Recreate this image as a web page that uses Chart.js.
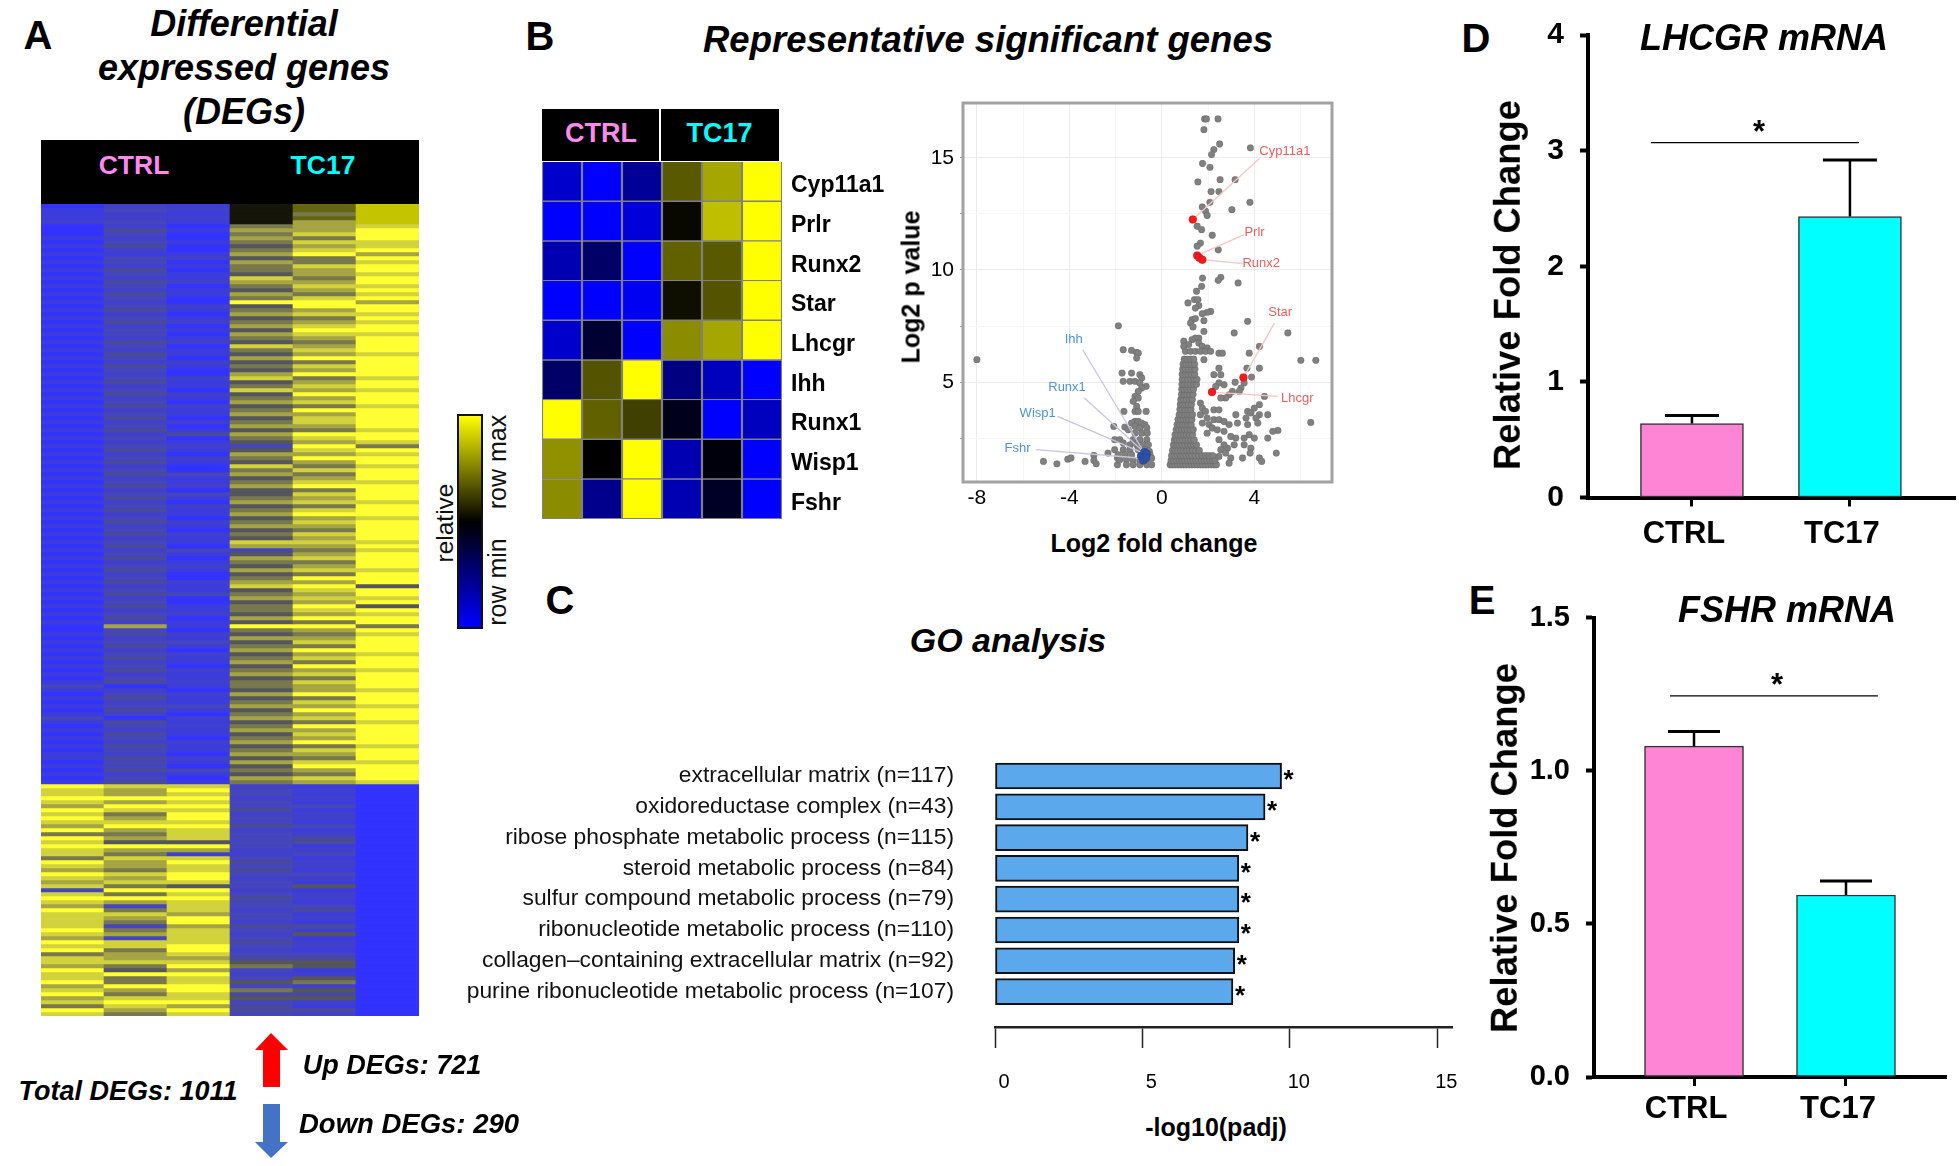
<!DOCTYPE html>
<html>
<head>
<meta charset="utf-8">
<title>DEG figure</title>
<script src="https://cdn.jsdelivr.net/npm/chart.js@4"></script>
<style>
  html, body { margin: 0; background: #fff; }
  #page { position: relative; width: 1959px; height: 1166px; overflow: hidden; font-family: 'Liberation Sans', Arial, sans-serif; color: #000; }
  canvas { position: absolute; }
  .txt { position: absolute; white-space: nowrap; line-height: 1; transform: translate(-50%, -50%); }
  .box { position: absolute; background: #000; }
  #colorbar { position: absolute; left: 457px; top: 414px; width: 22px; height: 211px; border: 2px solid #111; background: linear-gradient(to bottom, #ffff00 0%, #000 50%, #0000ff 100%); }
  #arrows { position: absolute; left: 0; top: 0; }
</style>
</head>
<body>
<div id="page">
  <div class="box" style="left:41px;top:140px;width:378px;height:64px"></div>
  <div class="box" style="left:542px;top:109px;width:117px;height:52px"></div>
  <div class="box" style="left:661px;top:109px;width:118px;height:52px"></div>
  <div id="colorbar"></div>
  <svg id="arrows" width="1959" height="1166">
    <polygon points="271,1033 288,1050 280,1050 280,1087 263,1087 263,1050 255,1050" fill="#ff0000"/>
    <polygon points="263,1104 280,1104 280,1142 288,1142 271,1158 255,1142 263,1142" fill="#4472c4"/>
  </svg>
</div>
<script>
'use strict';

/* A: one string per row, one character per sample. 0 = row min ... 9 = row max */
const degUpRows = [
  '021kdo','132kdo','121k6o','122kdo','231k7o','020678','041779','030689',
  '120769','031688','140578','020689','111797','032569','130768','021689',
  '140679','031578','121869','042779','130688','021579','141768','030689',
  '120997','032599','141679','020788','131569','042678','120789','031599',
  '130788','021679','142569','030879','121689','041578','130799','022569',
  '141689','030579','120799','032868','141579','021689','130878','042599',
  '121679','030789','142568','021699','131779','040589','122689','030779',
  '141568','024799','130689','021578','132396','041589','120778','032699',
  '141579','020868','130689','043769','121579','031688','142799','020569',
  '133589','041679','120788','032569','141689','021799','130578','042689',
  '121779','030569','142689','021579','131888','040779','123368','031579',
  '140789','021669','132579','041788','120569','030699','142779','021895',
  '131589','043679','120788','030579','141695','021689','132578','040799',
  '121569','071996','030679','142568','021779','133589','041669','120799',
  '032578','141689','021769','130599','042678','121789','031569','142689',
  '301679','120578','032799','141569','021689','133778','041599','120679',
  '302789','141568','032699','121779','041589','130679','022799','141568',
  '031689','120779','142569','031788','130599','043679','121569','030789',
  '141678'
];
const degDownRows = [
  '988210','879320','878310','999220','878310','799330','988410','869220',
  '979320','888310','799430','978210','668320','978340','855340','999310',
  '877220','862230','688310','979420','878320','768410','989330','879220',
  '788310','865350','399210','868320','999420','878310','738330','968240',
  '887310','879320','869210','837440','968320','878250','738310','988420',
  '889320','969210','678330','877440','888550','769650','957310','899220',
  '868350','968560','799320','879650','968440','788550','899320','687410',
  '979440','868320'
];
const heatChars = {
  0: '#3333ff', 1: '#3c3cdc', 2: '#4040cc', 3: '#4545bc', 4: '#4a4a9c', 5: '#55555e',
  6: '#78784e', 7: '#a5a545', 8: '#d2d23c', 9: '#ffff33', k: '#15150a', d: '#666610', o: '#c4c400'
};
const sampleColumns = ['s1', 's2', 's3', 's4', 's5', 's6'];

/* B: relative expression, -1 row min (blue) to 1 row max (yellow) */
const geneNames = ['Cyp11a1', 'Prlr', 'Runx2', 'Star', 'Lhcgr', 'Ihh', 'Runx1', 'Wisp1', 'Fshr'];
const geneCyp11a1 = [-0.8, -1, -0.6, 0.35, 0.65, 1];
const genePrlr = [-1, -1, -0.85, 0.03, 0.75, 1];
const geneRunx2 = [-0.7, -0.4, -1, 0.38, 0.35, 1];
const geneStar = [-1, -1, -0.95, 0.06, 0.33, 1];
const geneLhcgr = [-0.8, -0.2, -1, 0.55, 0.65, 1];
const geneIhh = [-0.4, 0.33, 1, -0.5, -0.75, -1];
const geneRunx1 = [1, 0.38, 0.25, -0.1, -1, -0.75];
const geneWisp1 = [0.57, 0, 1, -0.7, -0.05, -1];
const geneFshr = [0.55, -0.55, 1, -0.7, -0.15, -1];
const geneMatrix = [geneCyp11a1, genePrlr, geneRunx2, geneStar, geneLhcgr, geneIhh, geneRunx1, geneWisp1, geneFshr];

/* B: volcano, [log2 fold change, log2 p value] */
const volcanoRed = [[1.34,12.25],[1.53,10.65],[1.62,10.55],[1.75,10.46],[3.53,5.2],[2.17,4.55]];
const volcanoBlue = [[-0.9,1.7],[-0.75,1.88],[-0.65,1.8],[-0.8,1.5],[-0.68,1.62]];
const volcanoGrey = [
  [1.85,16.74],[1.93,16.74],[2.43,16.74],[1.82,16.26],[2.5,15.62],[2.25,15.37],[2.15,15.15],[3.83,15.45],
  [1.76,14.75],[2.08,14.58],[1.56,13.93],[2.52,14.03],[3.17,14.03],[2.13,13.5],[2.47,13.5],[2.08,13.02],
  [3.81,13.02],[1.75,12.81],[3.03,12.69],[1.89,12.62],[1.96,12.43],[1.53,11.95],[1.72,11.8],[2.18,11.55],
  [1.67,11.2],[1.53,11.06],[2.44,10.9],[1.76,9.64],[2.55,9.67],[2.44,9.54],[3.3,9.42],[1.72,9.27],[1.5,9.05],
  [1.13,8.53],[1.41,8.68],[1.56,8.68],[1.6,8.41],[1.45,8.3],[2.11,8.15],[1.96,8.11],[1.75,8.05],
  [1.31,7.78],[1.45,7.83],[1.24,7.63],[1.82,7.74],[1.35,7.46],[1.82,7.26],[1.6,6.96],[1.45,6.96],[1.31,6.89],
  [0.95,6.82],[1.16,6.67],[0.95,6.59],[1.6,6.74],[1.75,6.59],[1.96,6.52],[1.02,6.37],[1.24,6.37],[1.45,6.37],
  [1.67,6.37],[1.89,6.37],[2.11,6.37],[2.47,6.29],[2.62,6.29],[3.78,6.29],[4.22,6.59],[3.71,7.71],[3.13,7.19],
  [5.45,7.19],[6.01,5.97],[6.66,5.97],[6.44,3.2],[1.82,6.0],[2.47,5.62],[4.22,5.62],[3.68,5.62],[2.55,5.33],
  [2.25,5.33],[3.88,5.22],[3.17,4.99],[3.56,4.96],[2.69,4.88],[2.47,4.96],[3.42,4.73],[3.35,4.58],[3.05,4.58],
  [2.33,4.8],[2.91,4.43],[2.76,4.29],[2.55,4.29],[4.44,4.36],[4.22,3.99],[4.0,3.84],[3.71,3.69],[3.85,3.62],
  [4.22,3.54],[4.58,3.54],[3.64,3.39],[4.07,3.39],[3.71,3.1],[4.15,3.17],[3.2,3.54],[5.02,2.84],[4.8,2.8],
  [4.58,2.5],[3.78,2.65],[4,2.5],[3.56,2.5],[3.56,2.2],[3.85,2.05],[3.82,1.83],[4.95,1.83],[3.49,1.61],
  [4.22,1.61],[4.32,1.46],
  [1.67,4.06],[1.75,3.84],[1.67,3.54],[1.89,3.69],[1.96,3.39],[1.75,3.17],[2.04,3.1],[2.25,3.76],[2.47,3.76],
  [2.25,3.32],[2.47,3.32],[2.69,3.24],[2.91,3.1],[2.18,2.95],[2.4,2.87],[2.69,2.8],[1.96,2.72],[2.47,2.43],
  [2.98,2.57],[3.2,2.5],[2.84,2.05],[3.13,2.2],[2.69,2.2],[2.55,1.98],[2.98,1.61],[2.91,1.38],[2.76,1.83],
  [2.47,1.68],[3.27,3.17],
  [0.36,1.31],[0.47,1.31],[0.58,1.31],[0.7,1.31],[0.82,1.31],[0.93,1.31],[1.05,1.31],[1.18,1.31],[1.3,1.31],
  [1.42,1.31],[1.55,1.31],[1.67,1.31],[1.78,1.31],[1.9,1.31],[2.02,1.31],[2.14,1.31],[2.26,1.31],[2.36,1.31],
  [0.4,1.5],[0.52,1.5],[0.64,1.5],[0.76,1.5],[0.88,1.5],[1.0,1.5],[1.12,1.5],[1.24,1.5],[1.36,1.5],[1.48,1.5],
  [1.6,1.5],[1.72,1.5],[1.84,1.5],[1.96,1.5],[2.08,1.5],[2.2,1.5],[2.3,1.5],
  [0.42,1.72],[0.55,1.72],[0.68,1.72],[0.8,1.72],[0.92,1.72],[1.05,1.72],[1.18,1.72],[1.3,1.72],[1.45,1.72],
  [1.6,1.72],[1.75,1.72],[1.9,1.72],[2.05,1.72],[2.2,1.72],
  [0.46,1.95],[0.58,1.95],[0.7,1.95],[0.83,1.95],[0.95,1.95],[1.08,1.95],[1.2,1.95],[1.33,1.95],[1.47,1.95],[1.62,1.95],
  [0.5,2.2],[0.63,2.2],[0.75,2.2],[0.88,2.2],[1.0,2.2],[1.13,2.2],[1.25,2.2],[1.38,2.2],[1.5,2.2],
  [0.54,2.42],[0.66,2.42],[0.78,2.42],[0.9,2.42],[1.03,2.42],[1.15,2.42],[1.28,2.42],[1.4,2.42],
  [0.57,2.65],[0.7,2.65],[0.82,2.65],[0.95,2.65],[1.07,2.65],[1.2,2.65],[1.33,2.65],
  [0.62,2.88],[0.74,2.88],[0.86,2.88],[0.98,2.88],[1.1,2.88],[1.23,2.88],[1.36,2.88],
  [0.66,3.1],[0.78,3.1],[0.9,3.1],[1.02,3.1],[1.14,3.1],[1.27,3.1],
  [0.7,3.33],[0.82,3.33],[0.94,3.33],[1.06,3.33],[1.18,3.33],[1.3,3.33],
  [0.75,3.55],[0.87,3.55],[0.98,3.55],[1.1,3.55],[1.22,3.55],[1.33,3.55],
  [0.78,3.78],[0.9,3.78],[1.02,3.78],[1.14,3.78],[1.26,3.78],
  [0.8,4.0],[0.92,4.0],[1.04,4.0],[1.16,4.0],[1.28,4.0],
  [0.82,4.22],[0.95,4.22],[1.07,4.22],[1.2,4.22],[1.32,4.22],
  [0.85,4.45],[0.97,4.45],[1.09,4.45],[1.22,4.45],[1.35,4.45],
  [0.86,4.68],[0.98,4.68],[1.1,4.68],[1.23,4.68],[1.37,4.68],
  [0.87,4.9],[1.0,4.9],[1.12,4.9],[1.25,4.9],[1.38,4.9],[1.5,4.9],
  [0.88,5.12],[1.0,5.12],[1.13,5.12],[1.26,5.12],[1.4,5.12],[1.52,5.12],
  [0.88,5.35],[1.02,5.35],[1.15,5.35],[1.28,5.35],[1.42,5.35],
  [0.9,5.58],[1.03,5.58],[1.16,5.58],[1.3,5.58],[1.43,5.58],
  [0.92,5.8],[1.05,5.8],[1.18,5.8],[1.3,5.8],[1.42,5.8],
  [0.97,6.02],[1.1,6.02],[1.24,6.02],[1.38,6.02],
  [-8.0,6.0],[-5.12,1.46],[-4.54,1.35],[-4.07,1.56],[-3.93,1.61],[-3.32,1.46],[-2.94,1.73],[-2.94,1.5],[-2.84,1.35],
  [-2.33,1.83],[-1.92,1.61],[-1.92,1.31],[-1.88,7.51],[-1.67,6.44],[-1.31,6.41],[-1.09,6.32],[-1.02,6.29],[-1.09,6.07],
  [-1.72,5.4],[-1.31,5.4],[-0.95,5.33],[-0.87,5.18],[-1.67,5.03],[-1.38,5.03],[-1.16,5.03],[-0.95,4.96],[-0.68,4.81],
  [-0.87,4.73],[-1.02,4.58],[-1.16,4.36],[-1.02,4.29],[-1.24,4.14],[-1.09,3.91],[-1.16,3.69],[-1.02,3.69],[-0.68,3.69],
  [-1.64,3.69],[-1.16,3.24],[-1.02,3.24],[-0.87,3.17],[-0.73,3.1],[-1.31,3.17],[-2.08,3.02],[-1.6,2.99],[-1.45,2.87],
  [-1.16,3.02],[-0.95,2.95],[-0.65,2.95],[-1.16,2.72],[-0.87,2.72],[-0.63,2.72],[-2.04,2.43],[-1.82,2.43],[-1.24,2.43],
  [-0.95,2.43],[-0.65,2.43],[-1.67,2.28],[-1.38,2.2],[-1.09,2.2],[-0.8,2.2],[-0.58,2.2],[-2.04,1.98],[-1.67,1.98],
  [-1.38,1.98],[-1.02,1.98],[-0.73,1.98],[-0.54,1.9],[-1.89,1.76],[-1.6,1.76],[-1.31,1.76],[-0.51,1.76],[-1.82,1.53],
  [-1.53,1.53],[-1.24,1.53],[-0.95,1.46],[-0.65,1.53],[-0.44,1.6],[-1.53,1.31],[-1.24,1.31],[-0.95,1.31],[-0.65,1.31],[-0.44,1.31]
];
const volcanoLeaders = [
  [4.22,14.97,1.34,12.25],[3.56,11.58,1.53,10.65],[3.49,10.28,1.75,10.46],[4.87,7.63,3.53,5.2],[5.02,4.36,2.17,4.55],
  [-3.42,6.44,-0.85,2.0],[-3.35,4.29,-0.85,1.95],[-4.51,3.47,-0.85,1.85],[-5.45,1.98,-0.85,1.6]
];
const volcanoUpGenes = [['Cyp11a1',5.32,15.3],['Prlr',4.01,11.68],['Runx2',4.3,10.28],['Star',5.12,8.11],['Lhcgr',5.86,4.26]];
const volcanoDownGenes = [['Ihh',-3.81,6.89],['Runx1',-4.1,4.76],['Wisp1',-5.37,3.62],['Fshr',-6.24,2.05]];

/* C: GO terms */
const goTerms = [
  'extracellular matrix (n=117)', 'oxidoreductase complex (n=43)', 'ribose phosphate metabolic process (n=115)',
  'steroid metabolic process (n=84)', 'sulfur compound metabolic process (n=79)', 'ribonucleotide metabolic process (n=110)',
  'collagen\u2013containing extracellular matrix (n=92)', 'purine ribonucleotide metabolic process (n=107)'
];
const goValues = [9.72, 9.16, 8.58, 8.27, 8.27, 8.27, 8.13, 8.07];

/* D and E: qPCR bars */
const groups = ['CTRL', 'TC17'];
const lhcgrMean = [0.64, 2.43];
const lhcgrTop = [0.71, 2.92];
const fshrMean = [1.08, 0.594];
const fshrTop = [1.128, 0.64];

const FONT = "'Liberation Sans', Arial, sans-serif";
const page = document.getElementById('page');

function addText(text, x, y, font, color, rotate) {
  const el = document.createElement('div');
  el.className = 'txt';
  el.textContent = text;
  el.style.left = x + 'px';
  el.style.top = y + 'px';
  el.style.font = font + ' ' + FONT;
  el.style.lineHeight = '1';
  if (color) el.style.color = color;
  if (rotate) el.style.transform = `translate(-50%, -50%) rotate(${rotate}deg)`;
  page.appendChild(el);
}

function makeCanvas(left, top, width, height) {
  const c = document.createElement('canvas');
  c.width = width;
  c.height = height;
  c.style.left = left + 'px';
  c.style.top = top + 'px';
  c.style.width = width + 'px';
  c.style.height = height + 'px';
  page.appendChild(c);
  return c.getContext('2d');
}

// pins an axis box to a set size and stops its labels from pushing the plot area in
function fitAxis(size) {
  return s => {
    if (s.isHorizontal()) s.height = size; else s.width = size;
    s.paddingTop = s.paddingBottom = s.paddingLeft = s.paddingRight = 0;
  };
}

// text tied to data coordinates (stars, gene names)
const notesPlugin = {
  id: 'notes',
  afterDatasetsDraw(chart, args, opts) {
    const { ctx, scales } = chart;
    (opts.items || []).forEach(n => {
      ctx.save();
      ctx.font = n.font;
      ctx.fillStyle = n.color || '#000';
      ctx.textAlign = n.align || 'center';
      ctx.textBaseline = 'middle';
      ctx.fillText(n.text, scales.x.getPixelForValue(n.x) + (n.dx || 0), scales.y.getPixelForValue(n.y) + (n.dy || 0));
      ctx.restore();
    });
  }
};

const framePlugin = {
  id: 'frame',
  beforeDatasetsDraw(chart) {
    const { ctx, chartArea: a } = chart;
    ctx.save();
    ctx.strokeStyle = '#a2a2a2';
    ctx.lineWidth = 3;
    ctx.strokeRect(a.left, a.top, a.right - a.left, a.bottom - a.top);
    ctx.restore();
  }
};

Chart.defaults.animation = false;
Chart.defaults.responsive = false;
Chart.defaults.font.family = FONT;
Chart.defaults.color = '#000';
Chart.defaults.layout.autoPadding = false;
Chart.defaults.plugins.legend.display = false;
Chart.defaults.plugins.tooltip.enabled = false;

function heatScales() {
  return {
    x: { display: false, stacked: true },
    y: { display: false, stacked: true, reverse: true, min: 0, max: degUpRows.length + degDownRows.length }
  };
}

/* Panel A heatmap: one stacked dataset per row */
function drawDegHeatmap() {
  const rows = degUpRows.concat(degDownRows);
  new Chart(makeCanvas(41, 204, 378, 812), {
    type: 'bar',
    data: {
      labels: sampleColumns,
      datasets: rows.map(r => ({
        data: sampleColumns.map(() => 1),
        backgroundColor: r.split('').map(ch => heatChars[ch]),
        barPercentage: 1, categoryPercentage: 1
      }))
    },
    options: { maintainAspectRatio: false, scales: heatScales() }
  });
}

function exprColor(v) {
  const a = Math.round(Math.abs(v) * 255);
  return v < 0 ? `rgb(0,0,${a})` : `rgb(${a},${a},0)`;
}

/* Panel B heatmap */
function drawGeneHeatmap() {
  new Chart(makeCanvas(542, 150, 360, 380), {
    type: 'bar',
    data: {
      labels: sampleColumns,
      datasets: geneMatrix.map(r => ({
        data: r.map(() => 1),
        backgroundColor: r.map(exprColor),
        borderColor: '#808080', borderWidth: 1.4,
        barPercentage: 1, categoryPercentage: 1
      }))
    },
    options: {
      maintainAspectRatio: false,
      layout: { padding: { top: 12, bottom: 11 } },
      scales: {
        x: { display: false, stacked: true },
        y: {
          position: 'right', stacked: true, reverse: true, min: 0, max: geneNames.length,
          afterFit: fitAxis(120),
          afterBuildTicks: s => { s.ticks = geneNames.map((g, i) => ({ value: i + 0.5 })); },
          grid: { display: false, drawTicks: false }, border: { display: false },
          ticks: { autoSkip: false, padding: 9, labelOffset: 4, font: { size: 23, weight: 'bold' }, callback: v => geneNames[v - 0.5] }
        }
      }
    }
  });
}

/* Panel B volcano */
function drawVolcano() {
  const xy = p => ({ x: p[0], y: p[1] });
  const leaderSets = volcanoLeaders.map((l, i) => ({
    data: [{ x: l[0], y: l[1] }, { x: l[2], y: l[3] }],
    showLine: true, pointRadius: 0, borderWidth: 1.3,
    borderColor: i < 5 ? '#f9c4c4' : '#c6c6e2'
  }));
  const notes = volcanoUpGenes.map(g => ({ text: g[0], x: g[1], y: g[2], font: '13px ' + FONT, color: '#ee5c5c' }))
    .concat(volcanoDownGenes.map(g => ({ text: g[0], x: g[1], y: g[2], font: '13px ' + FONT, color: '#4f94d0' })));
  new Chart(makeCanvas(890, 90, 460, 430), {
    type: 'scatter',
    plugins: [notesPlugin, framePlugin],
    data: {
      datasets: [
        { data: volcanoRed.map(xy), backgroundColor: '#f01c1c', pointRadius: 4 },
        { data: volcanoBlue.map(xy), backgroundColor: '#3050a8', pointRadius: 4 },
        ...leaderSets,
        { data: volcanoGrey.map(xy), backgroundColor: '#808080', pointRadius: 3.4 }
      ]
    },
    options: {
      maintainAspectRatio: false,
      layout: { padding: { top: 13, right: 18 } },
      plugins: { notes: { items: notes } },
      scales: {
        x: {
          type: 'linear', min: -8.6, max: 7.36,
          afterFit: fitAxis(38),
          afterBuildTicks: s => { s.ticks = [-8, -6, -4, -2, 0, 2, 4, 6].map(v => ({ value: v })); },
          grid: { color: c => c.tick.value % 4 === 0 ? '#ececec' : '#f7f7f7', drawTicks: false },
          border: { display: false },
          ticks: { autoSkip: false, maxRotation: 0, padding: 4, font: { size: 21 }, callback: v => v % 4 === 0 ? String(v) : '' }
        },
        y: {
          min: 0.54, max: 17.45,
          afterFit: fitAxis(73),
          afterBuildTicks: s => { s.ticks = [2.5, 5, 7.5, 10, 12.5, 15].map(v => ({ value: v })); },
          grid: { color: c => c.tick.value % 5 === 0 ? '#ececec' : '#f7f7f7', tickLength: 3, tickColor: '#999' },
          border: { display: false },
          ticks: { autoSkip: false, padding: 6, font: { size: 21 }, callback: v => v % 5 === 0 ? String(v) : '' }
        }
      }
    }
  });
}

/* Panel C */
function drawGoBars() {
  const stars = goValues.map((v, i) => ({ text: '*', x: v, y: i, font: 'bold 26px ' + FONT, align: 'left', dx: 2, dy: 5 }));
  new Chart(makeCanvas(450, 750, 1020, 350), {
    type: 'bar',
    plugins: [notesPlugin],
    data: {
      datasets: [{
        data: goValues.map((v, i) => ({ x: v, y: i })),
        backgroundColor: '#5ba8ec', borderColor: '#111', borderWidth: 2, borderSkipped: false, barThickness: 26
      }]
    },
    options: {
      indexAxis: 'y',
      maintainAspectRatio: false,
      layout: { padding: { top: 10.6, right: 18 } },
      plugins: { notes: { items: stars } },
      scales: {
        x: {
          type: 'linear', min: 0, max: 15.5,
          afterFit: fitAxis(73),
          afterBuildTicks: s => { s.ticks = [0, 5, 10, 15].map(v => ({ value: v })); },
          grid: { drawOnChartArea: false, tickLength: 21, tickWidth: 1.5, tickColor: '#222' },
          border: { color: '#222', width: 2.5 },
          ticks: { autoSkip: false, maxRotation: 0, labelOffset: 9, padding: 22, font: { size: 20 } }
        },
        y: {
          type: 'linear', reverse: true, min: -0.5, max: 8.15, offset: false,
          afterFit: fitAxis(545),
          afterBuildTicks: s => { s.ticks = goTerms.map((t, i) => ({ value: i })); },
          grid: { display: false, drawTicks: false }, border: { display: false },
          ticks: { autoSkip: false, padding: 41, font: { size: 22.8 }, color: '#111', callback: v => goTerms[v] }
        }
      }
    }
  });
}

/* Panels D, E: bars plus error bars and bracket built as line datasets */
function drawFoldChart(cfg) {
  const errorSets = cfg.mean.map((m, i) => ({
    type: 'line',
    data: [{ x: i, y: m }, { x: i, y: cfg.top[i] }],
    borderColor: '#000', borderWidth: 2.5,
    pointStyle: 'line', pointRadius: [0, cfg.capRadius], pointBorderColor: '#000', pointBorderWidth: 3
  }));
  new Chart(makeCanvas(cfg.left, cfg.top0, 449, 560), {
    type: 'bar',
    plugins: [notesPlugin],
    data: {
      datasets: [
        ...errorSets,
        {
          type: 'line', data: [{ x: cfg.bracket[0], y: cfg.bracket[2] }, { x: cfg.bracket[1], y: cfg.bracket[2] }],
          borderColor: '#000', borderWidth: 1.2, pointRadius: 0
        },
        {
          data: cfg.mean.map((m, i) => ({ x: i, y: m })),
          backgroundColor: ['#fe85d6', '#00ffff'], borderColor: '#333', borderWidth: 1.5,
          borderSkipped: false, barThickness: cfg.barWidth
        }
      ]
    },
    options: {
      maintainAspectRatio: false,
      layout: { padding: { top: cfg.padTop, right: cfg.padRight } },
      plugins: { notes: { items: [{ text: '*', x: cfg.star[0], y: cfg.star[1], font: 'bold 31px ' + FONT, dy: 6 }] } },
      scales: {
        x: {
          type: 'linear', min: cfg.xRange[0], max: cfg.xRange[1], offset: false,
          afterFit: fitAxis(cfg.xHeight),
          afterBuildTicks: s => { s.ticks = groups.map((g, i) => ({ value: i })); },
          grid: { offset: false, drawOnChartArea: false, tickLength: 9, tickWidth: 3, tickColor: '#000' },
          border: { color: '#000', width: 4 },
          ticks: { autoSkip: false, maxRotation: 0, labelOffset: -8, padding: cfg.labelPad, font: { size: 31, weight: 'bold' }, callback: v => groups[v] }
        },
        y: {
          min: 0, max: cfg.yMax,
          afterFit: fitAxis(cfg.yWidth),
          grid: { drawOnChartArea: false, tickLength: 8, tickWidth: 4, tickColor: '#000' },
          border: { color: '#000', width: 4 },
          ticks: { stepSize: cfg.yStep, padding: cfg.yPad, font: { size: cfg.yFont, weight: 'bold' }, callback: cfg.yFmt }
        }
      }
    }
  });
}

document.addEventListener('DOMContentLoaded', () => {
  drawDegHeatmap();
  drawGeneHeatmap();
  drawVolcano();
  drawGoBars();

  drawFoldChart({
    left: 1510, top0: 10, padTop: 25, padRight: 4, xHeight: 72.5, yWidth: 78,
    mean: lhcgrMean, top: lhcgrTop, capRadius: 27, barWidth: 103,
    bracket: [-0.26, 1.057, 3.07], star: [0.424, 3.2], xRange: [-0.658, 1.665],
    yMax: 4, yStep: 1, yFont: 30, yPad: 16, labelPad: 9, yFmt: v => String(v)
  });
  drawFoldChart({
    left: 1510, top0: 590, padTop: 27.5, padRight: 13, xHeight: 73, yWidth: 84,
    mean: fshrMean, top: fshrTop, capRadius: 26, barWidth: 99,
    bracket: [-0.158, 1.21, 1.244], star: [0.546, 1.293], xRange: [-0.658, 1.658],
    yMax: 1.5, yStep: 0.5, yFont: 29, yPad: 16, labelPad: 5, yFmt: v => v.toFixed(1)
  });

  // panel letters
  addText('A', 38, 35, 'bold 40px');
  addText('B', 540, 36, 'bold 40px');
  addText('C', 560, 600, 'bold 40px');
  addText('D', 1476, 38, 'bold 40px');
  addText('E', 1482, 600, 'bold 40px');

  // titles
  addText('Differential', 244, 24, 'italic bold 36px');
  addText('expressed genes', 244, 68, 'italic bold 36px');
  addText('(DEGs)', 244, 112, 'italic bold 36px');
  addText('Representative significant genes', 988, 40, 'italic bold 36.5px');
  addText('GO analysis', 1008, 640, 'italic bold 34px');
  addText('LHCGR mRNA', 1764, 38, 'italic bold 36px');
  addText('FSHR mRNA', 1787, 610, 'italic bold 36px');

  // header labels on the heatmaps
  addText('CTRL', 134, 165, 'bold 26.5px', '#fb8aeb');
  addText('TC17', 323, 165, 'bold 26.5px', '#00ffff');
  addText('CTRL', 601, 133, 'bold 27px', '#fb8aeb');
  addText('TC17', 719.5, 133, 'bold 27px', '#00ffff');

  // colour key
  addText('relative', 445, 523, '24.5px', '#111', -90);
  addText('row max', 497, 462, '25px', '#111', -90);
  addText('row min', 497, 582, '25px', '#111', -90);

  // DEG counts
  addText('Total DEGs: 1011', 128, 1091, 'italic bold 27px');
  addText('Up DEGs: 721', 392, 1065, 'italic bold 27px');
  addText('Down DEGs: 290', 409, 1124, 'italic bold 27.5px');

  // axis titles
  addText('Log2 p value', 911, 287, 'bold 25px', null, -90);
  addText('Log2 fold change', 1154, 543, 'bold 25px');
  addText('-log10(padj)', 1216, 1127, 'bold 25px');
  addText('Relative Fold Change', 1508, 285, 'bold 36.4px', null, -90);
  addText('Relative Fold Change', 1505, 848, 'bold 36.4px', null, -90);
});
</script>
</body>
</html>
